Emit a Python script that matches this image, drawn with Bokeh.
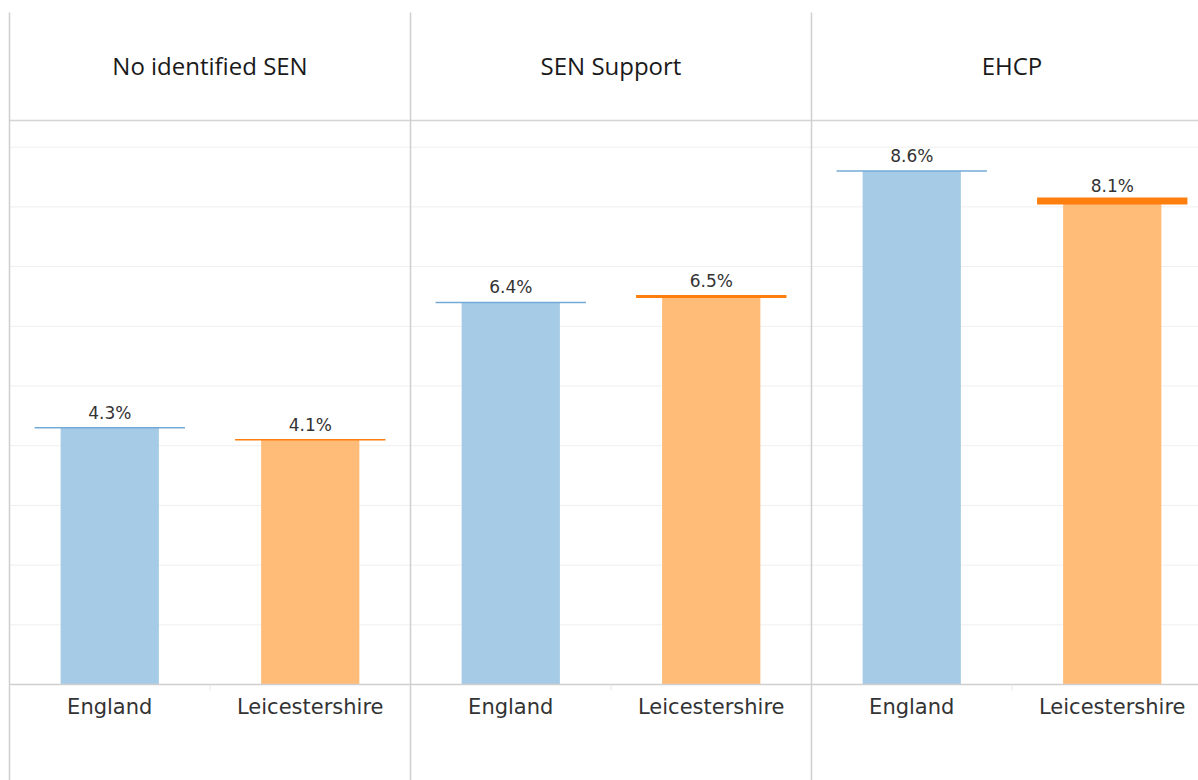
from bokeh.plotting import figure
from bokeh.models import Range1d, ColumnDataSource
from bokeh.embed import file_html
from bokeh.resources import INLINE
from bokeh.core.properties import value

# ---- data ----
panels = ["No identified SEN", "SEN Support", "EHCP"]
areas = ["England", "Leicestershire"]
england = [4.3, 6.4, 8.6]
leicestershire = [4.1, 6.5, 8.1]
grid_ticks = [1, 2, 3, 4, 5, 6, 7, 8, 9]

# ---- styles ----
bar_colors = {"England": "#a6cbe6", "Leicestershire": "#ffbb78"}
line_colors = {"England": "#74aad8", "Leicestershire": "#ff7f0e"}
line_widths = {"England": [1.5, 1.5, 1.5], "Leicestershire": [1.5, 3, 7]}

W, H = 1198, 780
px_per_unit_x = 200.5      # one bar slot
px_per_unit_y = 59.7       # one percent
left_px = 9
base_px = 684
top_px = 12
header_px = 120

x0 = -left_px / px_per_unit_x
x1 = (W - left_px) / px_per_unit_x
y1 = base_px / px_per_unit_y
y0 = -(H - base_px) / px_per_unit_y
y_top_border = (base_px - top_px) / px_per_unit_y
y_header = (base_px - header_px) / px_per_unit_y
y_header_text = (base_px - 67) / px_per_unit_y
y_xlabel = -(706 - base_px) / px_per_unit_y

p = figure(width=W, height=H, output_backend="svg", toolbar_location=None,
           x_range=Range1d(x0, x1), y_range=Range1d(y0, y1),
           min_border=0, min_border_left=0, min_border_right=0,
           min_border_top=0, min_border_bottom=0)
p.outline_line_color = None
p.xaxis.visible = False
p.yaxis.visible = False
p.xgrid.visible = False
p.ygrid.visible = False

n = len(panels)
# gridlines (start at the left border)
ng = len(grid_ticks)
p.segment(x0=[0] * ng, y0=grid_ticks, x1=[x1] * ng, y1=grid_ticks,
          line_color="#efefef", line_width=1)

# bars, reference lines, labels
for j, area in enumerate(areas):
    vals = england if area == "England" else leicestershire
    xs = [i * 2 + j + 0.5 for i in range(n)]
    src = ColumnDataSource(dict(x=xs, top=vals,
                                lbl=[f"{v:.1f}%" for v in vals],
                                x0=[x - 0.375 for x in xs],
                                x1=[x + 0.375 for x in xs],
                                lw=line_widths[area],
                                name=[area] * n))
    p.vbar(x="x", top="top", bottom=0, width=0.49, source=src,
           fill_color=bar_colors[area], line_color=None)
    p.segment(x0="x0", y0="top", x1="x1", y1="top", source=src,
              line_color=line_colors[area], line_width="lw")
    p.text(x="x", y="top", text="lbl", source=src, text_align="center",
           text_baseline="bottom", y_offset=-5, text_font=value("DejaVu Sans"),
           text_font_size="17px", text_color="#333333")
    p.text(x="x", y=y_xlabel, text="name", source=src, text_align="center",
           text_baseline="middle", text_font=value("DejaVu Sans"),
           text_font_size="21px", text_color="#333333")

# headers
p.text(x=[i * 2 + 1 for i in range(n)], y=[y_header_text] * n, text=panels,
       text_align="center", text_baseline="middle", text_font=value("Open Sans"),
       text_font_size="24px", text_color="#1a1a1a", y_offset=-2)

# frame lines
p.segment(x0=[0], y0=[0], x1=[x1], y1=[0], line_color="#cfcfcf", line_width=1.5)
p.segment(x0=[0], y0=[y_header], x1=[x1], y1=[y_header], line_color="#d4d4d4", line_width=1.5)
p.segment(x0=[i * 2 for i in range(n)], y0=[y0] * n,
          x1=[i * 2 for i in range(n)], y1=[y_top_border] * n,
          line_color="#cfcfcf", line_width=1.5)
# small ticks between bars
p.segment(x0=[i * 2 + 1 for i in range(n)], y0=[0] * n,
          x1=[i * 2 + 1 for i in range(n)], y1=[-0.1] * n,
          line_color="#e6e6e6", line_width=1)

open("out.html", "w").write(file_html(p, INLINE))
